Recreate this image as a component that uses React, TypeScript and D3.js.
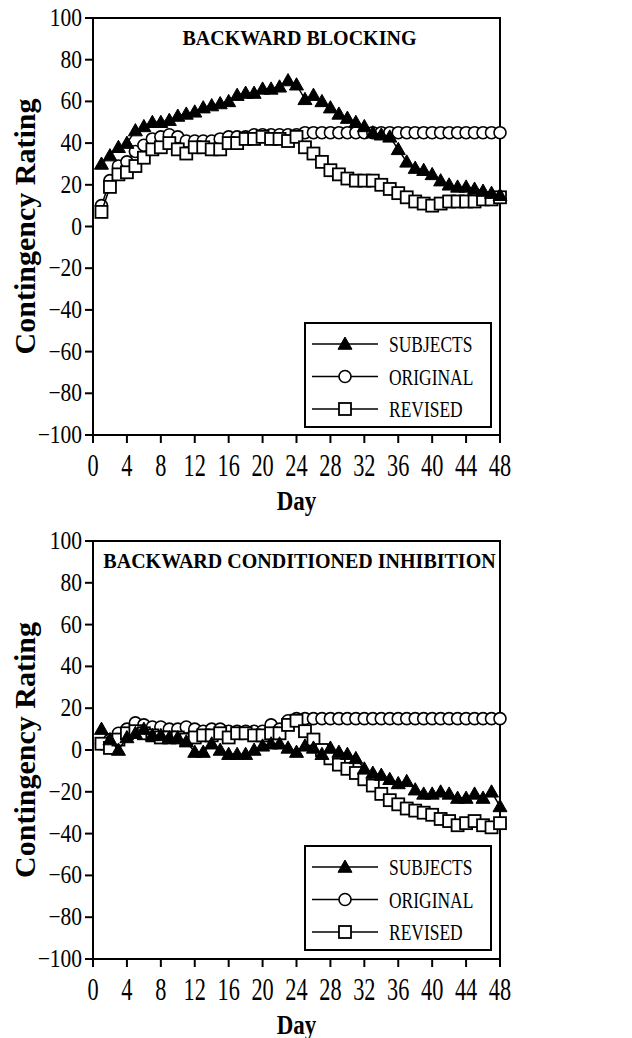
import React from "react";
import * as d3 from "d3";

// days 1..48
const days = [
  1, 2, 3, 4, 5, 6, 7, 8, 9, 10, 11, 12, 13, 14, 15, 16, 17, 18, 19, 20, 21, 22, 23, 24,
  25, 26, 27, 28, 29, 30, 31, 32, 33, 34, 35, 36, 37, 38, 39, 40, 41, 42, 43, 44, 45, 46, 47, 48,
];

// backward blocking
const bbSubjects = [
  30, 34, 38, 40, 46, 48, 50, 50, 51, 53, 54, 55, 57, 58, 59, 60, 63, 64, 64, 66, 66, 67, 70, 68,
  61, 63, 60, 57, 54, 52, 50, 48, 45, 44, 43, 37, 31, 28, 27, 25, 22, 20, 19, 19, 18, 17, 16, 15,
];
const bbOriginal = [
  10, 22, 29, 31, 36, 39, 42, 43, 44, 43, 41, 41, 41, 41, 42, 43, 43, 43, 44, 44, 44, 44, 44, 44,
  45, 45, 45, 45, 45, 45, 45, 45, 45, 45, 45, 45, 45, 45, 45, 45, 45, 45, 45, 45, 45, 45, 45, 45,
];
const bbRevised = [
  7, 19, 25, 26, 29, 33, 37, 38, 40, 37, 35, 38, 38, 37, 37, 40, 40, 42, 42, 43, 42, 42, 41, 43,
  38, 35, 31, 27, 25, 23, 22, 22, 22, 20, 18, 16, 14, 12, 11, 10, 11, 12, 12, 12, 12, 13, 13, 14,
];

// backward conditioned inhibition
const bciSubjects = [
  10, 5, 0, 6, 8, 10, 7, 7, 6, 6, 4, -1, -1, 3, 0, -2, -2, -2, 0, 2, 3, 3, 1, -1,
  2, 1, -2, 1, -1, -2, -4, -9, -11, -12, -14, -16, -15, -19, -21, -21, -20, -21, -23, -23, -21, -23, -20, -27,
];
const bciOriginal = [
  3, 5, 8, 10, 13, 12, 11, 11, 10, 10, 11, 10, 9, 10, 10, 9, 9, 9, 9, 9, 12, 10, 14, 15,
  15, 15, 15, 15, 15, 15, 15, 15, 15, 15, 15, 15, 15, 15, 15, 15, 15, 15, 15, 15, 15, 15, 15, 15,
];
const bciRevised = [
  3, 1, 5, 8, 9, 8, 7, 6, 6, 6, 5, 6, 7, 7, 8, 6, 8, 8, 7, 7, 8, 8, 12, 14,
  9, 5, 0, -4, -7, -9, -11, -14, -17, -21, -24, -26, -28, -29, -30, -31, -33, -34, -36, -35, -34, -36, -37, -35,
];

const xTicks = [0, 4, 8, 12, 16, 20, 24, 28, 32, 36, 40, 44, 48];
const yTicks = [100, 80, 60, 40, 20, 0, -20, -40, -60, -80, -100];
const legendNames = ["SUBJECTS", "ORIGINAL", "REVISED"];

const FONT = "'Liberation Serif', 'Times New Roman', serif";
const X0 = 93;
const X1 = 500;

const fmt = (v: number) => (v < 0 ? "\u2212" + Math.abs(v) : String(v));

function Marker({ kind, x, y }: { kind: string; x: number; y: number }) {
  if (kind === "tri") {
    const s = 7;
    return (
      <path
        d={`M${x},${y - s}L${x + s},${y + s * 0.75}L${x - s},${y + s * 0.75}Z`}
        fill="#000"
        stroke="#000"
        strokeWidth={1}
      />
    );
  }
  if (kind === "circ") {
    return <circle cx={x} cy={y} r={6} fill="#fff" stroke="#000" strokeWidth={1.6} />;
  }
  return (
    <rect x={x - 6} y={y - 6} width={12} height={12} fill="#fff" stroke="#000" strokeWidth={1.8} />
  );
}

function Panel({
  top,
  bottom,
  title,
  subjects,
  original,
  revised,
  legendTop,
}: {
  top: number;
  bottom: number;
  title: string;
  subjects: number[];
  original: number[];
  revised: number[];
  legendTop: number;
}) {
  const x = d3.scaleLinear().domain([0, 48]).range([X0, X1]);
  const y = d3.scaleLinear().domain([-100, 100]).range([bottom, top]);
  const line = d3
    .line<number>()
    .x((_, i) => x(days[i]))
    .y((d) => y(d));

  const series = [
    { vals: original, kind: "circ" },
    { vals: revised, kind: "rect" },
    { vals: subjects, kind: "tri" },
  ];
  const legendKinds = ["tri", "circ", "rect"];
  const midY = (top + bottom) / 2;

  return (
    <g>
      {/* frame */}
      <rect x={X0} y={top} width={X1 - X0} height={bottom - top} fill="none" stroke="#000" strokeWidth={2} />
      {/* y ticks */}
      {yTicks.map((t) => (
        <g key={"y" + t}>
          <line x1={X0 - 8} x2={X0} y1={y(t)} y2={y(t)} stroke="#000" strokeWidth={2} />
          <text
            transform={`translate(${X0 - 11},${y(t) + 8}) scale(0.86,1)`}
            textAnchor="end"
            fontFamily={FONT}
            fontSize={25}
          >
            {fmt(t)}
          </text>
        </g>
      ))}
      {/* x ticks */}
      {xTicks.map((t) => (
        <g key={"x" + t}>
          <line x1={x(t)} x2={x(t)} y1={bottom} y2={bottom + 8} stroke="#000" strokeWidth={2} />
          <text
            transform={`translate(${x(t)},${bottom + 41}) scale(0.72,1)`}
            textAnchor="middle"
            fontFamily={FONT}
            fontSize={31}
          >
            {t}
          </text>
        </g>
      ))}
      <text
        transform={`translate(${(X0 + X1) / 2},${bottom + 75}) scale(0.85,1)`}
        textAnchor="middle"
        fontFamily={FONT}
        fontWeight="bold"
        fontSize={27}
      >
        Day
      </text>
      <text
        transform={`translate(35,${midY}) rotate(-90)`}
        textAnchor="middle"
        fontFamily={FONT}
        fontWeight="bold"
        fontSize={30}
      >
        Contingency Rating
      </text>
      <text
        x={(X0 + X1) / 2 + 3}
        y={top + 27}
        textAnchor="middle"
        fontFamily={FONT}
        fontWeight="bold"
        fontSize={20}
      >
        {title}
      </text>
      {/* series */}
      {series.map((s, si) => (
        <g key={"s" + si}>
          <path d={line(s.vals) || ""} fill="none" stroke="#000" strokeWidth={1.5} />
          {s.vals.map((v, i) => (
            <Marker key={i} kind={s.kind} x={x(days[i])} y={y(v)} />
          ))}
        </g>
      ))}
      {/* legend */}
      <rect x={305} y={legendTop} width={186} height={104} fill="#fff" stroke="#000" strokeWidth={2} />
      {legendNames.map((n, i) => {
        const ly = legendTop + 21 + i * 32.5;
        return (
          <g key={n}>
            <line x1={312} x2={378} y1={ly} y2={ly} stroke="#000" strokeWidth={1.5} />
            <Marker kind={legendKinds[i]} x={345} y={ly} />
            <text
              transform={`translate(389,${ly + 8}) scale(0.76,1)`}
              fontFamily={FONT}
              fontSize={23}
            >
              {n}
            </text>
          </g>
        );
      })}
    </g>
  );
}

export default function App() {
  return (
    <svg
      width={632}
      height={1038}
      style={{ position: "absolute", left: 0, top: 0, background: "#fff" }}
    >
      <rect width={632} height={1038} fill="#fff" />
      <Panel
        top={18}
        bottom={435}
        title="BACKWARD BLOCKING"
        subjects={bbSubjects}
        original={bbOriginal}
        revised={bbRevised}
        legendTop={323}
      />
      <Panel
        top={541}
        bottom={959}
        title="BACKWARD CONDITIONED INHIBITION"
        subjects={bciSubjects}
        original={bciOriginal}
        revised={bciRevised}
        legendTop={846}
      />
    </svg>
  );
}
